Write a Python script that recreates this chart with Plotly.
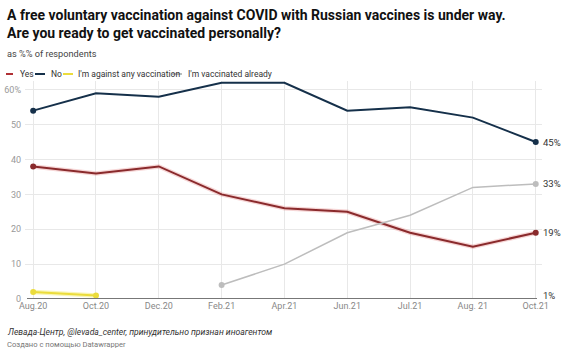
import plotly.graph_objects as go

categories = ["Aug.20", "Oct.20", "Dec.20", "Feb.21", "Apr.21", "Jun.21", "Jul.21", "Aug. 21", "Oct.21"]
yes_vals = [38, 36, 38, 30, 26, 25, 19, 15, 19]
no_vals = [54, 59, 58, 62, 62, 54, 55, 52, 45]
against_vals = [2, 1, None, None, None, None, None, None, None]
vaccinated_vals = [None, None, None, 4, 10, 19, 24, 32, 33]
y_ticks = [0, 10, 20, 30, 40, 50, 60]
y_ticklabels = ["0", "10", "20", "30", "40", "50", "60%"]

W, H = 566, 352
L, R, T, B = 25, 24, 81, 53
PW, PH = W - L - R, H - T - B

def px(x):
    return (x - L) / PW

def py(y):
    return (H - B - y) / PH

FONT = "Roboto"
fig = go.Figure()

def endpoints(vals):
    idx = [i for i, v in enumerate(vals) if v is not None]
    return [idx[0], idx[-1]]

series = [
    ("Yes", yes_vals, "#8a2a2c", 2, "rgba(225,120,120,0.3)"),
    ("No", no_vals, "#15304a", 2, None),
    ("I'm against any vaccination", against_vals, "#ebdc3c", 2, "rgba(245,235,90,0.45)"),
    ("I'm vaccinated already", vaccinated_vals, "#bdbdbd", 1.5, None),
]

for name, vals, color, w, halo in series:
    if halo:
        fig.add_trace(go.Scatter(x=categories, y=vals, mode="lines",
                                 line=dict(color=halo, width=w + 2.5), hoverinfo="skip", showlegend=False))
    fig.add_trace(go.Scatter(x=categories, y=vals, mode="lines", name=name,
                             line=dict(color=color, width=w), showlegend=False))
    ep = endpoints(vals)
    fig.add_trace(go.Scatter(x=[categories[i] for i in ep], y=[vals[i] for i in ep], mode="markers",
                             marker=dict(color=color, size=6), showlegend=False, hoverinfo="skip"))

# end labels
end_labels = [("45%", no_vals[-1]), ("33%", vaccinated_vals[-1]), ("19%", yes_vals[-1]), ("1%", 1)]
for txt, v in end_labels:
    fig.add_annotation(x=categories[-1], y=v, xref="x", yref="y", text=txt, showarrow=False,
                       xanchor="left", yanchor="middle", xshift=5,
                       font=dict(family=FONT, size=9.5, color="#333333"))

# baseline
fig.add_shape(type="line", xref="paper", yref="y", x0=px(27), x1=px(537), y0=0, y1=0,
              line=dict(color="#777777", width=2))

annos = [
    ("<b>A free voluntary vaccination against COVID with Russian vaccines is under way.</b>", 5, 15, 14, "#111111"),
    ("<b>Are you ready to get vaccinated personally?</b>", 5, 33, 14, "#111111"),
    ("as %% of respondents", 5, 54, 9.2, "#444444"),
    ("<i>Левада-Центр, @levada_center, принудительно признан иноагентом</i>", 5, 332, 8.6, "#333333"),
    ("Создано с помощью Datawrapper", 5, 344, 7.6, "#777777"),
]
for txt, x, y, s, c in annos:
    fig.add_annotation(x=px(x), y=py(y), xref="paper", yref="paper", text=txt, showarrow=False,
                       xanchor="left", yanchor="middle", font=dict(family=FONT, size=s, color=c))

# legend (manual)
legend = [("Yes", "#b03035", 6, 13, 18), ("No", "#15304a", 35, 45, 49),
          ("I'm against any vaccination", "#ebdc3c", 63, 73, 76),
          ("I'm vaccinated already", "#bdbdbd", 172, 182, 186)]
for txt, c, x0, x1, tx in legend:
    fig.add_shape(type="line", xref="paper", yref="paper", x0=px(x0), x1=px(x1), y0=py(74), y1=py(74),
                  line=dict(color=c, width=2))
    fig.add_annotation(x=px(tx), y=py(74), xref="paper", yref="paper", text=txt, showarrow=False,
                       xanchor="left", yanchor="middle", font=dict(family=FONT, size=8.5, color="#333333"))

fig.update_layout(
    width=W, height=H, margin=dict(l=L, r=R, t=T, b=B, autoexpand=False),
    paper_bgcolor="white", plot_bgcolor="white",
    font=dict(family=FONT, color="#888888"),
    xaxis=dict(type="category", categoryorder="array", categoryarray=categories,
               range=[-0.13, 8.1], showgrid=True, gridcolor="#e8e8e8", gridwidth=1, automargin=False,
               tickfont=dict(size=9, color="#888888"), ticks="", zeroline=False, showline=False),
    yaxis=dict(range=[0, 62.5], tickvals=y_ticks, ticktext=y_ticklabels, showgrid=True, automargin=False,
               gridcolor="#e8e8e8", gridwidth=1, zeroline=False, showline=False,
               tickfont=dict(size=9, color="#999999"), ticks="", ticklabelstandoff=3),
    showlegend=False,
)

fig.write_html("out.html")
